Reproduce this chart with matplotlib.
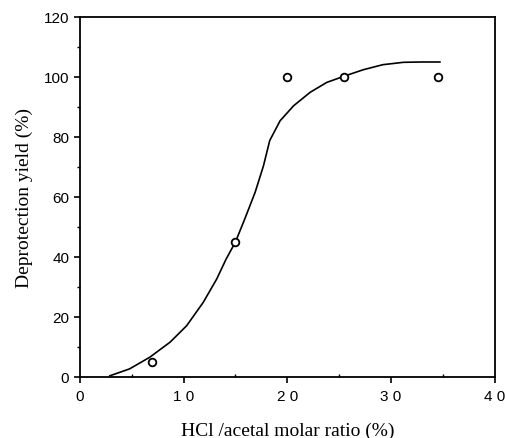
import matplotlib.pyplot as plt
from matplotlib.ticker import MultipleLocator

# measured points
hcl_ratio = [7, 15, 20, 25.5, 34.5]
yield_pct = [5, 45, 100, 100, 100]

# fitted curve
curve_x = [2.9, 4.8, 6.75, 8.7, 10.3, 11.9, 13.2, 14.1, 15.0, 15.9, 16.9, 17.7, 18.3,
           19.3, 20.6, 22.2, 23.8, 25.5, 27.3, 29.2, 31.2, 33.0, 34.7]
curve_y = [0.4, 2.7, 6.6, 11.6, 17.1, 24.9, 32.7, 39.3, 45.0, 52.7, 61.6, 70.4, 78.8,
           85.4, 90.4, 94.9, 98.2, 100.3, 102.4, 104.1, 104.9, 105.0, 105.0]

fig = plt.figure(figsize=(5.05, 4.39), dpi=100)
ax = fig.add_axes([0.158, 0.139, 0.822, 0.820])

ax.plot(curve_x, curve_y, color='black', lw=1.2, solid_joinstyle='round')
ax.plot(hcl_ratio, yield_pct, 'o', ms=5.5, mfc='white', mec='black', mew=1.3)

ax.set_xlim(0, 40)
ax.set_ylim(0, 120)
ax.xaxis.set_minor_locator(MultipleLocator(5))
ax.yaxis.set_major_locator(MultipleLocator(20))
ax.yaxis.set_minor_locator(MultipleLocator(10))
ax.tick_params(which='major', direction='out', length=4, width=1.2)
ax.tick_params(axis='x', which='major', pad=5)
ax.tick_params(axis='x', which='minor', direction='in', length=2, width=1)
ax.tick_params(axis='y', which='minor', direction='out', length=2, width=1)

ax.set_xticks([0, 10, 20, 30, 40])
ax.set_xticklabels(['0', '1 0', '2 0', '3 0', '4 0'], family='Liberation Sans', fontsize=11)
for lab in ax.get_yticklabels():
    lab.set_family('Liberation Sans')
    lab.set_fontsize(11)

for sp in ax.spines.values():
    sp.set_linewidth(1.3)

ax.set_xlabel('HCl /acetal molar ratio (%)', family='Liberation Serif', fontsize=14, labelpad=13)
ax.set_ylabel('Deprotection yield (%)', family='Liberation Serif', fontsize=14, labelpad=8)

fig.savefig('out.png', dpi=100)
